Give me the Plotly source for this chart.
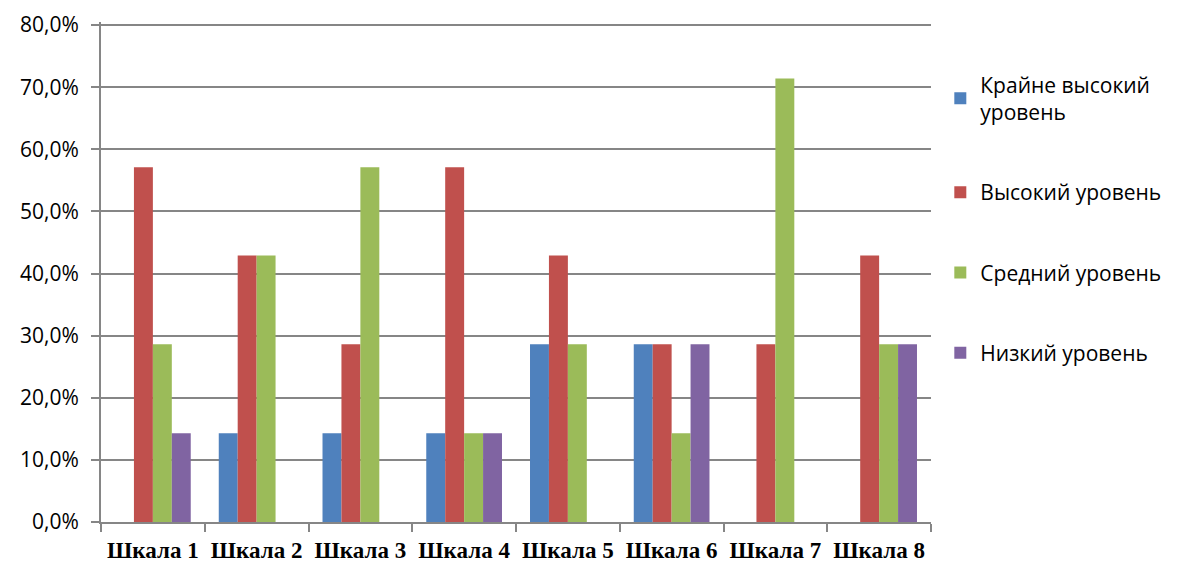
import plotly.graph_objects as go

categories = ["Шкала 1", "Шкала 2", "Шкала 3", "Шкала 4",
              "Шкала 5", "Шкала 6", "Шкала 7", "Шкала 8"]

very_high = [0.0, 14.3, 14.3, 14.3, 28.6, 28.6, 0.0, 0.0]
high = [57.1, 42.9, 28.6, 57.1, 42.9, 28.6, 28.6, 42.9]
medium = [28.6, 42.9, 57.1, 14.3, 28.6, 14.3, 71.4, 28.6]
low = [14.3, 0.0, 0.0, 14.3, 0.0, 28.6, 0.0, 28.6]

series_names = ["Крайне высокий<br>уровень", "Высокий уровень",
                "Средний уровень", "Низкий уровень"]
series_values = [very_high, high, medium, low]
series_colors = ["#4F81BD", "#C0504D", "#9BBB59", "#8064A2"]

fig = go.Figure()
for i, (name, vals, col) in enumerate(zip(series_names, series_values, series_colors)):
    fig.add_trace(go.Bar(
        x=categories,
        y=[v / 100 for v in vals],
        name=name,
        marker=dict(color=col, line=dict(width=0)),
        legendgroup=str(i),
    ))

fig.update_layout(
    width=1177, height=565,
    margin=dict(l=101, r=245, t=22, b=43),
    paper_bgcolor="white", plot_bgcolor="white",
    separators=",.",
    barmode="group",
    bargap=0.27, bargroupgap=0.0,
    showlegend=True,
    legend=dict(
        x=1.01, y=0.915, xanchor="left", yanchor="top",
        font=dict(family="Open Sans, Liberation Sans, sans-serif", size=21, color="black"),
        tracegroupgap=50, itemwidth=30,
        bgcolor="rgba(0,0,0,0)",
    ),
    xaxis=dict(
        showline=True, linecolor="#868686", linewidth=2,
        ticks="outside", ticklen=8, tickcolor="#868686", tickwidth=2,
        tickson="boundaries", ticklabelstandoff=6, automargin=False,
        tickfont=dict(family="Liberation Serif, serif", size=23, color="black",
                      weight="bold"),
        showgrid=False,
    ),
    yaxis=dict(
        range=[0, 0.805], tickvals=[i / 10 for i in range(9)], tickformat=".1%",
        showline=True, linecolor="#868686", linewidth=2,
        ticks="outside", ticklen=8, tickcolor="#868686", tickwidth=2,
        ticklabelstandoff=8, automargin=False,
        showgrid=True, gridcolor="#868686", gridwidth=2,
        tickfont=dict(family="Open Sans, Liberation Sans, sans-serif", size=21, color="black"),
        zeroline=False,
    ),
)

fig.write_html("out.html")
